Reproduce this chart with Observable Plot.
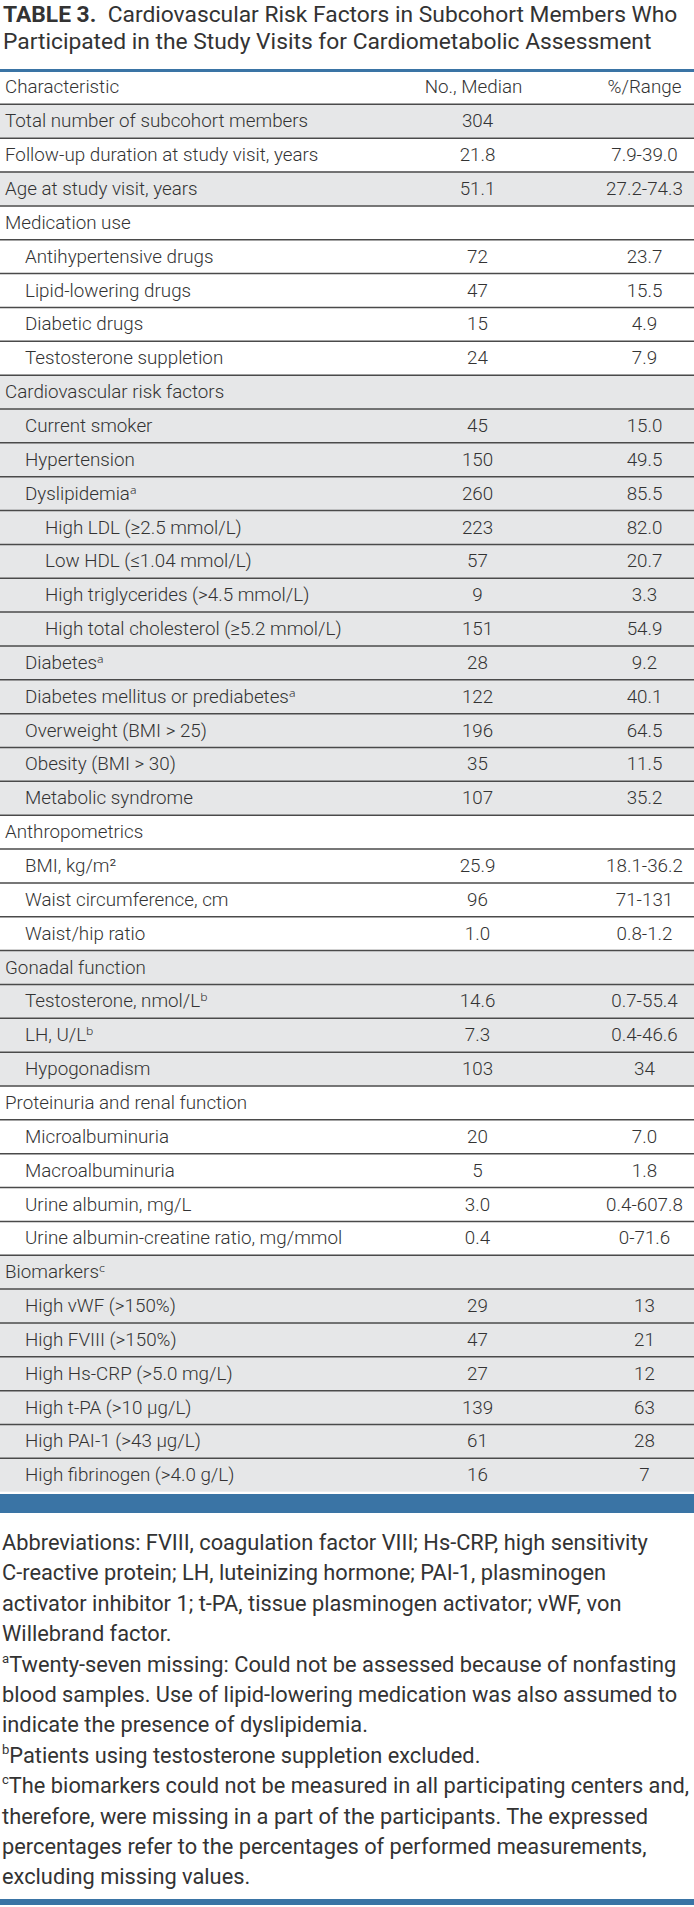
<!DOCTYPE html>
<html><head><meta charset="utf-8">
<script src="https://cdn.jsdelivr.net/npm/d3@7"></script>
<script src="https://cdn.jsdelivr.net/npm/@observablehq/plot@0.6"></script>
<style>
html,body{margin:0;padding:0;background:#fff}
body{width:694px;font-family:Roboto,"Noto Sans",sans-serif;color:#2f2f2f}
#title{height:66px;box-sizing:border-box;padding:1px 0 0 3px;font-size:22.8px;line-height:27px;color:#333;white-space:nowrap}
#title b{font-weight:700}
#chart svg{display:block}
#band{margin-top:2px;height:19px;background:#3a74a5}
#notes{margin-top:15px;padding-left:2px;font-size:21.8px;line-height:30.4px;color:#333;white-space:nowrap}
#notes sup{font-size:0.6em;line-height:0;vertical-align:0.7em}
#endline{margin-top:6px;height:6px;background:#3a74a5}
</style></head><body>
<div id="title"><b>TABLE 3.</b>&nbsp; Cardiovascular Risk Factors in Subcohort Members Who<br>Participated in the Study Visits for Cardiometabolic Assessment</div>
<div id="chart"></div>
<div id="band"></div>
<div id="notes">Abbreviations: FVIII, coagulation factor VIII; Hs-CRP, high sensitivity<br>C-reactive protein; LH, luteinizing hormone; PAI-1, plasminogen<br>activator inhibitor 1; t-PA, tissue plasminogen activator; vWF, von<br>Willebrand factor.<br><sup>a</sup>Twenty-seven missing: Could not be assessed because of nonfasting<br>blood samples. Use of lipid-lowering medication was also assumed to<br>indicate the presence of dyslipidemia.<br><sup>b</sup>Patients using testosterone suppletion excluded.<br><sup>c</sup>The biomarkers could not be measured in all participating centers and,<br>therefore, were missing in a part of the participants. The expressed<br>percentages refer to the percentages of performed measurements,<br>excluding missing values.</div>
<div id="endline"></div>
<script>
const headers = ["Characteristic", "No., Median", "%/Range"];
const labels = [
  "Total number of subcohort members",
  "Follow-up duration at study visit, years",
  "Age at study visit, years",
  "Medication use",
  "Antihypertensive drugs",
  "Lipid-lowering drugs",
  "Diabetic drugs",
  "Testosterone suppletion",
  "Cardiovascular risk factors",
  "Current smoker",
  "Hypertension",
  "Dyslipidemia\u1d43",
  "High LDL (\u22652.5 mmol/L)",
  "Low HDL (\u22641.04 mmol/L)",
  "High triglycerides (>4.5 mmol/L)",
  "High total cholesterol (\u22655.2 mmol/L)",
  "Diabetes\u1d43",
  "Diabetes mellitus or prediabetes\u1d43",
  "Overweight (BMI > 25)",
  "Obesity (BMI > 30)",
  "Metabolic syndrome",
  "Anthropometrics",
  "BMI, kg/m\u00b2",
  "Waist circumference, cm",
  "Waist/hip ratio",
  "Gonadal function",
  "Testosterone, nmol/L\u1d47",
  "LH, U/L\u1d47",
  "Hypogonadism",
  "Proteinuria and renal function",
  "Microalbuminuria",
  "Macroalbuminuria",
  "Urine albumin, mg/L",
  "Urine albumin-creatine ratio, mg/mmol",
  "Biomarkers\u1d9c",
  "High vWF (>150%)",
  "High FVIII (>150%)",
  "High Hs-CRP (>5.0 mg/L)",
  "High t-PA (>10 \u03bcg/L)",
  "High PAI-1 (>43 \u03bcg/L)",
  "High fibrinogen (>4.0 g/L)"
];
const levels = [0,0,0,0,1,1,1,1,0,1,1,1,2,2,2,2,1,1,1,1,1,0,1,1,1,0,1,1,1,0,1,1,1,1,0,1,1,1,1,1,1];
const noMedian = ["304","21.8","51.1","","72","47","15","24","","45","150","260","223","57","9","151","28","122","196","35","107","","25.9","96","1.0","","14.6","7.3","103","","20","5","3.0","0.4","","29","47","27","139","61","16"];
const pctRange = ["","7.9-39.0","27.2-74.3","","23.7","15.5","4.9","7.9","","15.0","49.5","85.5","82.0","20.7","3.3","54.9","9.2","40.1","64.5","11.5","35.2","","18.1-36.2","71-131","0.8-1.2","","0.7-55.4","0.4-46.6","34","","7.0","1.8","0.4-607.8","0-71.6","","13","21","12","63","28","7"];

let group = -1;
const rows = labels.map((label, k) => {
  if (levels[k] === 0) group++;
  return {i: k + 1, label, level: levels[k], n: noMedian[k], p: pctRange[k], shaded: group % 2 === 0};
});
const head = [{i: 0, a: headers[0], b: headers[1], c: headers[2]}];
const nBands = rows.length + 1;
const bandH = 33.85;
const mTop = 4;
const H = Math.round(mTop + nBands * bandH);

const FS = 18.8, TXT = "#333";
const plot = Plot.plot({
  width: 694, height: H,
  marginTop: mTop, marginBottom: H - mTop - nBands * bandH, marginLeft: 0, marginRight: 0,
  x: {domain: [0, 694], axis: null},
  y: {domain: [0, nBands], reverse: true, axis: null},
  style: {fontFamily: "Roboto, 'Noto Sans', sans-serif", background: "#fff"},
  marks: [
    Plot.rect(rows.filter(d => d.shaded), {y1: "i", y2: d => d.i + 1, fill: "#e6e7e8"}),
    Plot.ruleY([0], {stroke: "#3a74a5", strokeWidth: 3}),
    Plot.ruleY(d3.range(1, nBands), {stroke: "#4a4a4a", strokeWidth: 1.5}),
    Plot.text(head, {x: 4.5, y: d => d.i + 0.5, text: "a", textAnchor: "start", fontSize: FS, fill: TXT, fontWeight: 300}),
    Plot.text(head, {x: 473, y: d => d.i + 0.5, text: "b", fontSize: FS, fill: TXT, fontWeight: 300}),
    Plot.text(head, {x: 644, y: d => d.i + 0.5, text: "c", fontSize: FS, fill: TXT, fontWeight: 300}),
    Plot.text(rows, {x: d => 4.5 + d.level * 20, y: d => d.i + 0.5, text: "label", textAnchor: "start", fontSize: FS, fill: TXT, fontWeight: 300}),
    Plot.text(rows, {x: 477, y: d => d.i + 0.5, text: "n", fontSize: FS, fill: TXT, fontWeight: 300}),
    Plot.text(rows, {x: 644, y: d => d.i + 0.5, text: "p", fontSize: FS, fill: TXT, fontWeight: 300})
  ]
});
document.getElementById("chart").appendChild(plot);
</script>
</body></html>
